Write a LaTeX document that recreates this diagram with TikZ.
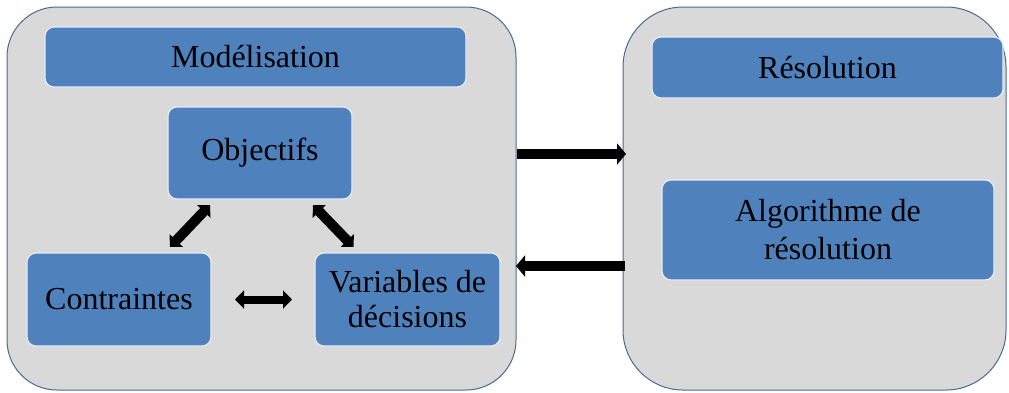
\documentclass[tikz,border=0pt]{standalone}
\usepackage{fontspec}
\setmainfont{Liberation Serif}
\usetikzlibrary{arrows.meta}
\definecolor{boxgray}{HTML}{D9D9D9}
\definecolor{boxedge}{HTML}{4A6A93}
\definecolor{bluefill}{HTML}{4F81BD}
\tikzset{
  bigbox/.style={draw=boxedge, line width=1pt, fill=boxgray, inner sep=0pt, outer sep=0pt},
  bluebox/.style={draw=white!85!bluefill, line width=1.2pt, fill=bluefill, rounded corners=9pt, inner sep=0pt, outer sep=0pt, align=center, font=\fontsize{32}{35}\selectfont, text=black},
  fatarrow/.style={line width=9.5pt, -{Triangle[length=9pt,width=21pt]}},
  fatdbl/.style={line width=8pt, {Triangle[length=9pt,width=18pt]}-{Triangle[length=9pt,width=18pt]}}
}
\begin{document}
\begin{tikzpicture}[x=1pt,y=-1pt]
\useasboundingbox (0,0) rectangle (1009,392);
% big containers
\node[bigbox, rounded corners=50pt, minimum width=509pt, minimum height=383pt] (L) at (261.5,198.5) {};
\node[bigbox, rounded corners=60pt, minimum width=383pt, minimum height=383pt] (R) at (814.5,198.5) {};
% inner boxes
\node[bluebox, minimum width=421pt, minimum height=60pt] (mod) at (255.5,57) {Modélisation};
\node[bluebox, minimum width=184pt, minimum height=92pt] (obj) at (260,153) {Objectifs};
\node[bluebox, minimum width=184pt, minimum height=93pt] (con) at (119,299.5) {Contraintes};
\node[bluebox, minimum width=185pt, minimum height=93pt] (var) at (407.5,299.5) {Variables de\\décisions};
\node[bluebox, minimum width=351pt, minimum height=61pt] (res) at (827.5,67.5) {Résolution};
\node[bluebox, minimum width=332pt, minimum height=100pt, font=\fontsize{32}{38}\selectfont] (alg) at (828,230) {Algorithme de\\résolution};
% arrows between containers
\coordinate (a1s) at (517,154);
\coordinate (a1e) at (626,154);
\coordinate (a2s) at (625,266);
\coordinate (a2e) at (516,266);
\draw[fatarrow] (a1s) -- (a1e);
\draw[fatarrow] (a2s) -- (a2e);
% arrows inside modelisation
\draw[fatdbl, line width=10pt] ([xshift=51pt,yshift=6pt]con.north) -- ([xshift=-50pt,yshift=-6pt]obj.south);
\draw[fatdbl, line width=10pt] ([xshift=53pt,yshift=-6pt]obj.south) -- ([xshift=-54pt,yshift=6pt]var.north);
\draw[fatdbl] ([xshift=24pt]con.east) -- ([xshift=-23pt]var.west);
\end{tikzpicture}
\end{document}
